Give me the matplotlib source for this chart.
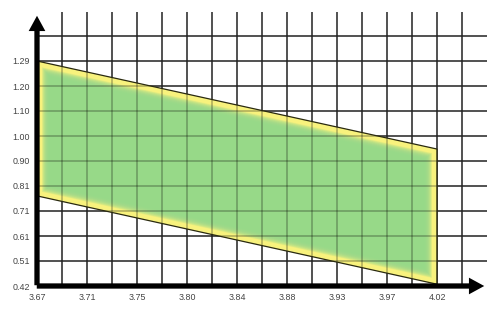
import numpy as np
import matplotlib
matplotlib.use('Agg')
import matplotlib.pyplot as plt
from matplotlib.patches import Polygon, FancyArrowPatch

# tick labels as printed on the chart
x_labels = ['3.67', '3.71', '3.75', '3.80', '3.84', '3.88', '3.93', '3.97', '4.02']
y_labels = ['0.42', '0.51', '0.61', '0.71', '0.81', '0.90', '1.00', '1.10', '1.20', '1.29']
x_first, x_last = 3.666, 4.0156
y_first, y_last = 0.418, 1.292

# region corners (x, y)
poly_x = [3.666, 4.0156, 4.0156, 3.666]
poly_y = [1.292, 0.950, 0.425, 0.768]

x_ticks = np.linspace(x_first, x_last, len(x_labels))
y_ticks = np.linspace(y_first, y_last, len(y_labels))
xs = x_ticks[1] - x_ticks[0]
ys = y_ticks[1] - y_ticks[0]

fig = plt.figure(figsize=(5, 3.1), dpi=100)
ax = fig.add_axes([37 / 500, 24 / 310, 450 / 500, 274 / 310])
ax.set_xlim(x_first, x_first + 9 * xs)
ax.set_ylim(y_first, y_first + 10.96 * ys)
for s in ax.spines.values():
    s.set_visible(False)

grid_x = [x_first + k * xs / 2 for k in range(1, 18)]
grid_y = [y_first + k * ys for k in range(1, 11)]


def draw_grid(**kw):
    lines = []
    for gx in grid_x:
        lines.append(ax.axvline(gx, **kw))
    for gy in grid_y:
        lines.append(ax.axhline(gy, **kw))
    return lines


draw_grid(color='#222222', lw=1.1, zorder=1)


def shrink(px, py, d):
    # inset a convex polygon by d pixels, working in display space
    pts = ax.transData.transform(np.column_stack([px, py]))
    n = len(pts)
    c = pts.mean(axis=0)
    lines = []
    for i in range(n):
        a, b = pts[i], pts[(i + 1) % n]
        t = (b - a) / np.hypot(*(b - a))
        nrm = np.array([-t[1], t[0]])
        if np.dot(c - a, nrm) < 0:
            nrm = -nrm
        lines.append((a + nrm * d, t))
    out = []
    for i in range(n):
        p1, t1 = lines[i - 1]
        p2, t2 = lines[i]
        m = np.array([t1, -t2]).T
        s = np.linalg.solve(m, p2 - p1)
        out.append(p1 + s[0] * t1)
    return ax.transData.inverted().transform(np.array(out))


fig.canvas.draw()
verts = np.column_stack([poly_x, poly_y])
base = Polygon(verts, closed=True, facecolor='#f8f27d', edgecolor='none', zorder=2)
ax.add_patch(base)
for d in np.arange(5.0, 13.5, 0.5):
    ax.add_patch(Polygon(shrink(poly_x, poly_y, d), closed=True,
                         facecolor='#96d98d', alpha=0.17, edgecolor='none', zorder=3))

# grid showing faintly through the fill
for ln in draw_grid(color='black', lw=1.1, alpha=0.3, zorder=4):
    ln.set_clip_path(base)

ax.add_patch(Polygon(verts, closed=True, facecolor='none',
                     edgecolor='#2a2a10', lw=0.9, zorder=5))

# axes with arrow heads
x0, x1 = ax.get_xlim()
y0, y1 = ax.get_ylim()
px_x = (x1 - x0) / 450
px_y = (y1 - y0) / 274
arrow = 'simple,head_length=1.1,head_width=1.2,tail_width=0.38'
ax.add_patch(FancyArrowPatch((x0 - 3 * px_x, y0), (x1, y0), arrowstyle=arrow,
                             mutation_scale=10, color='black', lw=0,
                             clip_on=False, zorder=6))
ax.add_patch(FancyArrowPatch((x0, y0 - 2 * px_y), (x0, y1 - 1 * px_y), arrowstyle=arrow,
                             mutation_scale=10, color='black', lw=0,
                             clip_on=False, zorder=6))

ax.set_xticks(x_ticks, x_labels, fontfamily='Liberation Sans')
ax.set_yticks(y_ticks, y_labels, fontfamily='Liberation Sans')
ax.tick_params(length=0, labelsize=6.4, colors='#444444')
ax.tick_params(axis='x', pad=5)
ax.tick_params(axis='y', pad=5)

fig.savefig('out.png', dpi=100)
